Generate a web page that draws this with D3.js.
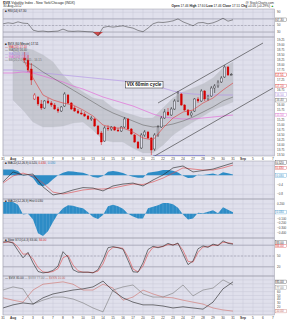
<!DOCTYPE html>
<html>
<head>
<meta charset="utf-8">
<script src="https://cdn.jsdelivr.net/npm/d3@7"></script>
<style>
  body { margin: 0; background: #fff; }
  svg { display: block; }
  text { font-family: "Liberation Sans", Arial, sans-serif; }
</style>
</head>
<body>
<script>
// ---- data ----
const dayLabels = ['31', 'Aug', '2', '3', '6', '7', '8', '9', '10', '13', '14', '15', '16', '17', '20', '21', '22', '23', '24', '27', '28', '29', '30', '31', 'Sep', '5', '6', '7']

// 60 min candles, 3 per day from Aug 2 (day 2) to Aug 30 (day 22)
const barOpen = [18.35, 18.25, 17.8, 16.3, 16.4, 16.05, 15.85, 16.2, 16.1, 16.0, 15.8, 15.7, 15.95, 16.5, 16.1, 15.85, 15.7, 15.6, 15.55, 15.45, 15.3,
  15.3, 14.95, 14.6, 14.2, 14.85, 14.8, 14.9, 14.75, 14.7, 14.9, 15.3, 14.8, 14.5, 14.15, 13.85, 14.5, 14.65, 14.35, 13.8, 14.5, 14.9,
  15.35, 15.65, 15.5, 15.8, 16.2, 16.55, 16.0, 15.75, 15.5, 15.7, 16.3, 16.2, 16.7, 16.3, 16.45, 16.85, 16.95, 17.15, 17.4, 17.9, 17.46]
const barHigh = [18.65, 18.5, 18.1, 16.6, 16.45, 16.25, 16.25, 16.35, 16.2, 16.1, 15.9, 15.95, 16.65, 16.55, 16.15, 15.95, 15.8, 15.75, 15.65, 15.5, 15.45,
  15.35, 15.0, 14.7, 14.95, 15.0, 14.95, 14.95, 14.85, 14.95, 15.4, 15.35, 14.85, 14.55, 14.2, 14.6, 14.75, 14.7, 14.4, 14.6, 15.0, 15.45,
  15.8, 15.85, 15.9, 16.3, 16.7, 16.6, 16.05, 15.8, 15.7, 16.35, 16.4, 16.8, 16.75, 16.5, 16.95, 17.05, 17.25, 17.45, 18.0, 17.95, 17.6]
const barLow = [18.15, 17.65, 17.0, 16.25, 15.95, 15.75, 15.8, 16.05, 15.9, 15.75, 15.6, 15.65, 15.9, 16.05, 15.75, 15.65, 15.55, 15.5, 15.4, 15.25, 15.2,
  14.9, 14.5, 14.0, 14.15, 14.7, 14.7, 14.7, 14.65, 14.65, 14.85, 14.75, 14.5, 14.1, 13.8, 13.8, 14.4, 14.3, 13.5, 13.7, 14.4, 14.85,
  15.3, 15.45, 15.45, 15.75, 16.15, 15.95, 15.7, 15.45, 15.4, 15.65, 16.1, 16.15, 16.2, 16.2, 16.4, 16.6, 16.85, 17.1, 17.35, 17.45, 17.46]
const barClose = [18.25, 17.75, 17.25, 16.5, 16.05, 15.85, 16.2, 16.1, 16.0, 15.8, 15.7, 15.9, 16.55, 16.1, 15.8, 15.7, 15.6, 15.55, 15.45, 15.3, 15.35,
  14.95, 14.55, 14.15, 14.85, 14.8, 14.9, 14.75, 14.7, 14.9, 15.3, 14.8, 14.55, 14.15, 13.85, 14.5, 14.65, 14.35, 13.75, 14.5, 14.9, 15.35,
  15.65, 15.5, 15.8, 16.2, 16.6, 16.0, 15.75, 15.5, 15.6, 16.3, 16.2, 16.7, 16.3, 16.45, 16.85, 16.95, 17.15, 17.35, 17.9, 17.5, 17.51]

// overlays, one value per day (day 0 .. 23)
const maShort = [null, null, 18.3, 17.35, 16.5, 16.25, 16.1, 16.0, 15.75, 15.45, 15.0, 14.85, 14.85, 14.65, 14.35, 14.25, 14.85, 15.35, 15.65, 15.75, 16.1, 16.35, 16.75, 17.1]
const ma50 = [null, null, 18.15, 18.0, 17.65, 17.35, 17.05, 16.75, 16.45, 16.15, 15.85, 15.6, 15.4, 15.2, 15.0, 14.9, 14.95, 15.05, 15.2, 15.4, 15.65, 15.9, 16.2, 16.4]
const ma200 = [17.75, 17.75, 17.7, 17.65, 17.6, 17.55, 17.5, 17.45, 17.4, 17.35, 17.3, 17.25, 17.2, 17.15, 17.05, 16.95, 16.85, 16.7, 16.6, 16.55, 16.52, 16.5, 16.5, 16.5]
const ma100 = [17.6, 17.6, 17.65, 17.6, 17.45, 17.3, 17.15, 16.95, 16.8, 16.6, 16.4, 16.25, 16.1, 15.95, 15.75, 15.55, 15.4, 15.35, 15.3, 15.3, 15.35, 15.4, 15.45, 15.5]
const bbUpper = [null, 18.85, 18.85, 18.75, 18.5, 18.15, 17.5, 17.0, 16.65, 16.35, 16.25, 15.85, 15.65, 15.5, 15.35, 15.35, 15.85, 16.35, 16.65, 16.85, 17.05, 17.35, 17.85, 18.15]
const bbLower = [null, 16.25, 15.75, 15.15, 14.9, 14.9, 14.95, 15.1, 15.15, 14.75, 14.25, 14.15, 14.15, 13.85, 13.6, 13.6, 14.0, 14.5, 14.85, 15.15, 15.45, 15.75, 15.95, 16.15]

// drawn trend channel and low line (day, value)
const upperChannelDays = [15.5, 26]
const upperChannel = [16.1, 19.1]
const lowerChannelDays = [15, 27]
const lowerChannel = [13.4, 16.85]
const lowLineDays = [15, 20.2]
const lowLevel = 13.47

// indicators, one value per half day
const rsi = [55, 58, 56, 61, 57, 56, 36, 32, 33, 31, 32, 33, 39, 33, 32, 33, 32, 31, 30.5, 18, 44, 47, 45, 47, 49, 45, 42, 35, 31, 42,
  55, 60, 59, 61, 64, 70, 61, 55, 49, 58, 59, 55, 58, 64, 72, 63, 67.3]
const macdHist = [0.24, 0.24, 0.24, 0.18, -0.02, 0.0, -0.12, -0.40, -0.46, -0.36, -0.17, 0.0, 0.11, 0.17, 0.16, 0.13, 0.11, 0.03, -0.07, -0.11,
  -0.03, 0.15, 0.18, 0.15, 0.1, 0.0, -0.06, -0.1, -0.1, 0.11, 0.14, 0.17, 0.22, 0.22, 0.19, 0.12, -0.02, -0.12, -0.1, 0.02,
  0.01, 0.04, 0.07, 0.01, 0.13, 0.08, 0.03]
const stoK = [89, 90, 86, 65, 45, 60, 31, 7, 3, 5, 10, 22, 62, 47, 12, 5, 5, 5, 3, 12, 39, 73, 76, 73, 69, 38, 6, 5, 31, 68,
  77, 73, 77, 85, 80, 86, 56, 26, 36, 70, 78, 74, 83, 79, 92, 85, 83]
const stoD = [87, 89, 88, 75, 55, 56, 42, 18, 6, 4, 7, 15, 45, 52, 25, 9, 5, 5, 4, 8, 28, 62, 74, 74, 71, 48, 14, 6, 22, 56,
  74, 75, 76, 82, 81, 84, 66, 35, 33, 60, 75, 76, 80, 80, 88, 87, 84]

// one value per day
const macdLine = [-0.28, 0.14, 0.01, 0.05, -0.49, -0.83, -0.75, -0.62, -0.52, -0.54, -0.66, -0.45, -0.37, -0.33, -0.45, -0.2, 0.01, 0.31, 0.39, 0.14, 0.2, 0.26, 0.39, 0.52]
const macdSignal = [-0.33, -0.03, 0.09, -0.03, -0.33, -0.71, -0.79, -0.71, -0.62, -0.58, -0.58, -0.54, -0.45, -0.37, -0.39, -0.28, -0.12, 0.09, 0.31, 0.26, 0.22, 0.22, 0.31, 0.43]
const lowerBlack = [18, 26, 31, 28, 44, 54, 59, 64, 67, 72, 87, 62, 44, 33, 26, 26, 23, 18, 21, 18, 15, 33, 67, 85]
const lowerGray = [64, 72, 67, 28, 38, 46, 46, 41, 31, 18, 8, 64, 72, 77, 54, 46, 46, 56, 77, 49, 64, 69, 90, 77]
const lowerRed = [44, 38, 33, 64, 79, 82, 85, 79, 64, 64, 79, 69, 38, 46, 64, 54, 46, 44, 38, 33, 28, 18, 13, 10]

// ---- setup ----
const W = 287
const H = 320
const X0 = 3
const X1 = 274.5
const BG = '#e0e0ec'
const GRID = '#c8c8d8'
const RED = '#d40000'
const BLUE = '#2d8cc6'

const svg = d3.select('body').append('svg').attr('width', W).attr('height', H)
const defs = svg.append('defs')
const x = d3.scaleLinear().domain([0, 27]).range([3, 273])
const borders = []
const tickLabels = []
const markerYs = []

function panel (name, top, bottom, y, ticks, fmt) {
  svg.append('rect').attr('x', X0).attr('y', top).attr('width', X1 - X0).attr('height', bottom - top).attr('fill', BG)
  const grid = svg.append('g').attr('stroke', GRID).attr('stroke-width', 0.5)
  grid.selectAll(null).data(dayLabels).join('line')
    .attr('x1', (d, i) => x(i)).attr('x2', (d, i) => x(i))
    .attr('y1', top).attr('y2', bottom)
  grid.selectAll(null).data(ticks).join('line')
    .attr('x1', X0).attr('x2', X1)
    .attr('y1', d => y(d)).attr('y2', d => y(d))
  ticks.forEach(t => tickLabels.push({ y: y(t), text: fmt(t) }))
  defs.append('clipPath').attr('id', 'clip-' + name).append('rect')
    .attr('x', X0).attr('y', top).attr('width', X1 - X0).attr('height', bottom - top)
  borders.push([top, bottom])
  return svg.append('g').attr('clip-path', `url(#clip-${name})`)
}

function refLine (g, y, v, dash) {
  g.append('line').attr('x1', X0).attr('x2', X1).attr('y1', y(v)).attr('y2', y(v))
    .attr('stroke', '#8a8a9a').attr('stroke-width', 0.5)
    .attr('stroke-dasharray', dash ? '2,1.5' : null)
}

function marker (yPix, label, color) {
  markerYs.push(yPix)
  svg.append('rect').attr('x', 275.5).attr('y', yPix - 1.8).attr('width', 11).attr('height', 3.6)
    .attr('fill', '#fff').attr('stroke', color).attr('stroke-width', 0.3)
  svg.append('text').attr('x', 276.2).attr('y', yPix + 1.1)
    .style('font-size', '3px').attr('fill', color).text(label)
}

function legend (yPix, parts) {
  const t = svg.append('text').attr('x', 5).attr('y', yPix).style('font-size', '3px')
  parts.forEach(p => t.append('tspan').attr('fill', p[1]).text(p[0]))
}

function dateRow (yPix) {
  svg.append('g').selectAll(null).data(dayLabels).join('text')
    .attr('x', (d, i) => x(i)).attr('y', yPix)
    .attr('text-anchor', 'middle').style('font-size', '3.2px')
    .style('font-weight', d => (d === 'Aug' || d === 'Sep') ? 'bold' : null)
    .attr('fill', '#333').text(d => d)
}

const dayLine = (y) => d3.line().defined(d => d !== null).x((d, i) => x(i)).y(d => y(d))
const halfLine = (y) => d3.line().x((d, i) => x(i / 2)).y(d => y(d))

// ---- title ----
const t1 = svg.append('text').attr('x', 3).attr('y', 3.8).style('font-size', '3.4px').attr('fill', '#222')
t1.append('tspan').style('font-weight', 'bold').text('$VIX')
t1.append('tspan').text(' Volatility Index - New York/Chicago (INDX)')
svg.append('text').attr('x', 274).attr('y', 3.8).attr('text-anchor', 'end')
  .style('font-size', '3.2px').attr('fill', '#333').text('@ StockCharts.com')
svg.append('text').attr('x', 3).attr('y', 7.4).style('font-size', '3.2px').attr('fill', '#333').text('30-Aug-2012')
const t2 = svg.append('text').attr('x', 274).attr('y', 7.4).attr('text-anchor', 'end').style('font-size', '3.2px').attr('fill', '#222')
const ohlc = [['Open', '17.46'], ['High', '17.60'], ['Low', '17.46'], ['Close', '17.51'], ['Chg', '+0.05 (+0.29%)']]
ohlc.forEach(p => {
  t2.append('tspan').style('font-weight', 'bold').text(' ' + p[0] + ' ')
  t2.append('tspan').text(p[1])
})
t2.append('tspan').attr('fill', '#1a9a1a').text(' \u25B2')

// ---- RSI panel ----
const yRsi = d3.scaleLinear().domain([15, 100]).range([37, 9])
const gRsi = panel('rsi', 9, 37, yRsi, [30, 50, 70, 90], d => String(d))
refLine(gRsi, yRsi, 30)
refLine(gRsi, yRsi, 70)
refLine(gRsi, yRsi, 50, true)
gRsi.append('path').datum(rsi)
  .attr('d', d3.area().x((d, i) => x(i / 2)).y0(yRsi(30)).y1(d => yRsi(Math.min(d, 30))))
  .attr('fill', '#c83030').attr('opacity', 0.85)
gRsi.append('path').datum(rsi).attr('d', halfLine(yRsi))
  .attr('fill', 'none').attr('stroke', '#333').attr('stroke-width', 0.5)
legend(11.6, [['\u25A0 RSI(14) 67.30', '#222']])
marker(yRsi(67.3), '67.30', '#333')

// ---- price panel ----
const yP = d3.scaleLinear().domain([13.4, 19.4]).range([157, 37])
const gP = panel('price', 37, 156, yP, d3.range(13.5, 19.3, 0.25), d3.format('.2f'))

gP.append('path').datum(d3.range(bbUpper.length).filter(i => bbUpper[i] !== null))
  .attr('d', d3.area().x(i => x(i)).y0(i => yP(bbLower[i])).y1(i => yP(bbUpper[i])))
  .attr('fill', '#a9adb2').attr('opacity', 0.45)
  .attr('stroke', '#9a9ea4').attr('stroke-width', 0.3)

gP.append('path').datum(ma200).attr('d', dayLine(yP)).attr('fill', 'none').attr('stroke', '#b69ae6').attr('stroke-width', 0.7)
gP.append('path').datum(ma100).attr('d', dayLine(yP)).attr('fill', 'none').attr('stroke', '#e46ed8').attr('stroke-width', 0.7)
gP.append('path').datum(ma50).attr('d', dayLine(yP)).attr('fill', 'none').attr('stroke', '#6c6c6c').attr('stroke-width', 0.6)

gP.append('line')
  .attr('x1', x(lowLineDays[0])).attr('x2', x(lowLineDays[1]))
  .attr('y1', yP(lowLevel)).attr('y2', yP(lowLevel))
  .attr('stroke', '#7a78e0').attr('stroke-width', 0.8)

// candles
const candles = barClose.map((c, k) => ({
  t: 2 + (k + 0.5) / 3,
  o: barOpen[k],
  h: barHigh[k],
  l: barLow[k],
  c: c,
  prev: k === 0 ? barOpen[0] : barClose[k - 1]
}))
const cg = gP.append('g')
cg.selectAll(null).data(candles).join('line')
  .attr('x1', d => x(d.t)).attr('x2', d => x(d.t))
  .attr('y1', d => yP(d.h)).attr('y2', d => yP(d.l))
  .attr('stroke', d => d.c < d.prev ? RED : '#111').attr('stroke-width', 0.5)
cg.selectAll(null).data(candles).join('rect')
  .attr('x', d => x(d.t) - 0.9).attr('width', 1.8)
  .attr('y', d => yP(Math.max(d.o, d.c)))
  .attr('height', d => Math.max(0.5, Math.abs(yP(d.o) - yP(d.c))))
  .attr('fill', d => d.c < d.o ? (d.c < d.prev ? RED : '#111') : BG)
  .attr('stroke', d => d.c < d.prev ? RED : '#111').attr('stroke-width', 0.35)

gP.append('path').datum(maShort).attr('d', dayLine(yP)).attr('fill', 'none').attr('stroke', '#e03a3a').attr('stroke-width', 0.6)

// channel
gP.append('line')
  .attr('x1', x(upperChannelDays[0])).attr('x2', x(upperChannelDays[1]))
  .attr('y1', yP(upperChannel[0])).attr('y2', yP(upperChannel[1]))
  .attr('stroke', '#333').attr('stroke-width', 0.6)
gP.append('line')
  .attr('x1', x(lowerChannelDays[0])).attr('x2', x(lowerChannelDays[1]))
  .attr('y1', yP(lowerChannel[0])).attr('y2', yP(lowerChannel[1]))
  .attr('stroke', '#333').attr('stroke-width', 0.6)

// note
const note = gP.append('text').attr('x', x(14.1)).attr('y', yP(17.02) + 1.6)
  .attr('text-anchor', 'middle').style('font-size', '4.6px').style('font-weight', 'bold')
  .attr('fill', '#111').text('VIX 60min cycle')
const nb = note.node().getBBox()
gP.insert('rect', 'text').attr('x', nb.x - 1.2).attr('y', nb.y - 0.8)
  .attr('width', nb.width + 2.4).attr('height', nb.height + 1.6)
  .attr('fill', '#fff').attr('stroke', '#222').attr('stroke-width', 0.5)

legend(45, [['\u25A0 $VIX (60 Minute) 17.51', '#111']])
legend(48.2, [['\u2014 MA(10) 17.10', '#d42a2a']])
legend(51.4, [['\u2014 MA(50) 16.40', '#555']])
legend(54.6, [['\u2014 MA(200) 16.50', '#9f82d8']])
legend(57.8, [['\u2014 MA(100) 15.50', '#d45ac8']])
legend(61, [['\u2014 BB(20,2.0) 18.15 - 16.15', '#777']])

marker(yP(17.51), '17.51', RED)
marker(yP(17.1) + 3, '17.10', '#d42a2a')
marker(yP(16.5) - 0.5, '16.50', '#9f82d8')
marker(yP(16.4) + 3.2, '16.40', '#555')
marker(yP(15.5), '15.50', '#d45ac8')

dateRow(160)

// ---- MACD panel ----
const yM = d3.scaleLinear().domain([-1.0, 0.6]).range([199, 161])
const gM = panel('macd', 161, 199, yM, [-0.8, -0.4, 0, 0.4], d3.format('.1f'))
gM.append('path').datum(macdHist)
  .attr('d', d3.area().x((d, i) => x(i / 2)).y0(yM(0)).y1(d => yM(d)))
  .attr('fill', BLUE)
gM.append('path').datum(macdSignal).attr('d', dayLine(yM)).attr('fill', 'none').attr('stroke', '#e04848').attr('stroke-width', 0.6)
gM.append('path').datum(macdLine).attr('d', dayLine(yM)).attr('fill', 'none').attr('stroke', '#222').attr('stroke-width', 0.6)
legend(164, [['\u25A0 MACD(12,26,9) 0.520, ', '#222'], ['0.430', '#d42a2a'], [', 0.030', BLUE]])
marker(yM(0.52) - 0.5, '0.520', '#222')
marker(yM(0.43) + 3, '0.430', '#d42a2a')
marker(yM(0.03) + 1, '0.030', BLUE)

// ---- histogram panel ----
const yH = d3.scaleLinear().domain([-0.5, 0.3]).range([238, 199])
const gH = panel('hist', 199, 238, yH, [-0.4, -0.3, -0.2, -0.1, 0, 0.1, 0.2], d3.format('.3f'))
gH.append('path').datum(macdHist)
  .attr('d', d3.area().x((d, i) => x(i / 2)).y0(yH(0)).y1(d => yH(d)))
  .attr('fill', BLUE)
gH.append('g').selectAll(null).data(d3.range(0, 23, 1 / 3)).join('line')
  .attr('x1', d => x(d)).attr('x2', d => x(d)).attr('y1', 199).attr('y2', 238)
  .attr('stroke', BG).attr('stroke-width', 0.3).attr('opacity', 0.5)
legend(202, [['\u25A0 MACD(12,26,9) Hist 0.030', '#222']])
marker(yH(0.03), '0.030', BLUE)

// ---- slow stochastic panel ----
const yS = d3.scaleLinear().domain([0, 100]).range([274, 238])
const gS = panel('sto', 238, 276, yS, [20, 50, 80], d => String(d))
refLine(gS, yS, 20)
refLine(gS, yS, 80)
refLine(gS, yS, 50, true)
gS.append('path').datum(stoD).attr('d', halfLine(yS)).attr('fill', 'none').attr('stroke', '#e04848').attr('stroke-width', 0.6)
gS.append('path').datum(stoK).attr('d', halfLine(yS)).attr('fill', 'none').attr('stroke', '#222').attr('stroke-width', 0.6)
legend(241, [['\u25A0 Slow STO(14,3) 83.00, ', '#222'], ['84.00', '#d42a2a']])
marker(yS(83) - 1.5, '83.00', '#222')
marker(yS(84) + 2.2, '84.00', '#d42a2a')

// ---- lower panel ----
const yL = d3.scaleLinear().domain([0, 100]).range([315, 276])
const gL = panel('lower', 276, 315, yL, [10, 20, 30, 40, 50, 60, 70, 80, 90], d => String(d))
gL.append('path').datum(lowerRed).attr('d', dayLine(yL)).attr('fill', 'none').attr('stroke', '#d0706a').attr('stroke-width', 0.6)
gL.append('path').datum(lowerGray).attr('d', dayLine(yL)).attr('fill', 'none').attr('stroke', '#7a7a7a').attr('stroke-width', 0.6)
gL.append('path').datum(lowerBlack).attr('d', dayLine(yL)).attr('fill', 'none').attr('stroke', '#222').attr('stroke-width', 0.6)
legend(279, [['\u2014 $VIX 85.00 ', '#222'], ['\u2014 $VXV 77.00 ', '#777'], ['\u2014 $VXN 10.00', '#c0605a']])
marker(yL(85), '85.00', '#222')
marker(yL(77) + 2.5, '77.00', '#777')
marker(yL(10), '10.00', '#c0605a')
dateRow(318.7)

// ---- right axis tick labels, skipping those under a value marker ----
svg.append('g').selectAll(null)
  .data(tickLabels.filter(t => markerYs.every(m => Math.abs(m - t.y) > 3.8)))
  .join('text')
  .attr('x', 277).attr('y', d => d.y + 1)
  .style('font-size', '3px').attr('fill', '#444')
  .text(d => d.text)

// ---- borders ----
borders.forEach(b => {
  svg.append('rect').attr('x', X0).attr('y', b[0]).attr('width', X1 - X0).attr('height', b[1] - b[0])
    .attr('fill', 'none').attr('stroke', '#9a9aa8').attr('stroke-width', 0.5)
})
</script>
</body>
</html>
